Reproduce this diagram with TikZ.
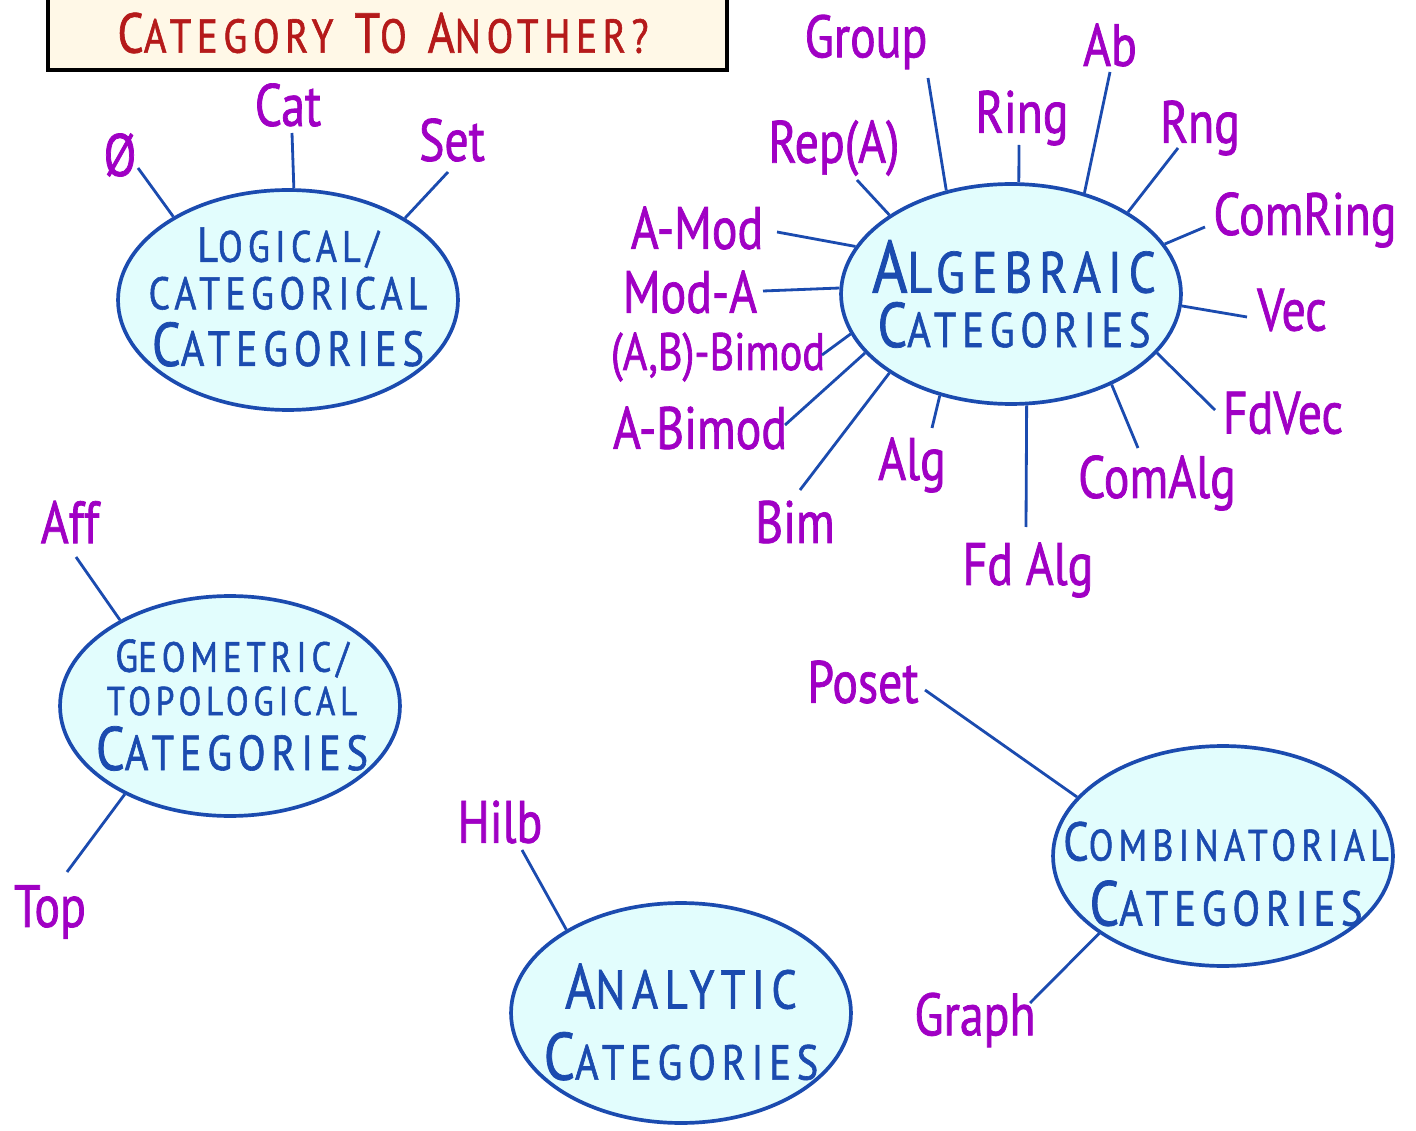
\documentclass[tikz,border=0pt]{standalone}
\usepackage{fontspec}
\newfontfamily\handfont[FakeStretch=0.82,LetterSpace=12,FakeBold=1.2]{PT Sans}
\newfontfamily\labelfont[FakeStretch=0.80,FakeBold=1.2]{PT Sans}
\usetikzlibrary{shapes.geometric}
\definecolor{catblue}{HTML}{1B4BAF}
\definecolor{catfill}{HTML}{E2FDFD}
\definecolor{catpurple}{HTML}{A000C4}
\definecolor{titlered}{HTML}{B51A1A}
\definecolor{titlecream}{HTML}{FFF8E7}
% first letter at one size, the rest of the word at another
\newcommand\capsword[4]{{\fontsize{#1}{#1}\selectfont #3}{\fontsize{#2}{#2}\selectfont #4}}
\tikzset{
  catell/.style={ellipse, draw=catblue, fill=catfill, line width=2.1pt,
    minimum width=6.8cm, minimum height=4.4cm, inner sep=0pt},
  cattext/.style={text=catblue, font={\handfont\fontsize{10}{10}\selectfont},
    align=center, inner sep=0pt},
  lbl/.style={text=catpurple, font={\labelfont\fontsize{34}{34}\selectfont}, inner sep=0pt},
  link/.style={draw=catblue, line width=1.6pt},
  titlebox/.style={draw=black, fill=titlecream, line width=2pt,
    minimum width=13.58cm, minimum height=1.7cm, inner sep=0pt}
}
\begin{document}
\begin{tikzpicture}[x=0.02cm,y=-0.02cm]
\useasboundingbox (0,0) rectangle (1416,1131);

% heading box
\node[titlebox] (hbox) at (387.5,27.5) {};
\node[text=titlered, font=\handfont, inner sep=0pt] (htext) at (383,33)
  {\capsword{32}{27}{C}{ATEGORY}\hspace{12pt}\capsword{32}{27}{T}{O}\hspace{12pt}\capsword{32}{27}{A}{NOTHER?}};

% the five families of categories
\node[catell] (logic) at (288,300) {};
\node[cattext] (logictxt) at (288,297)
  {\capsword{28}{25}{L}{OGICAL/}\\[4pt]\capsword{26}{26}{C}{ATEGORICAL}\\[6pt]\capsword{35}{28}{C}{ATEGORIES}};

\node[catell] (alg) at (1011,294) {};
\node[cattext] (algtxt) at (1014,294)
  {\capsword{42}{33}{A}{LGEBRAIC}\\[4pt]\capsword{36}{28}{C}{ATEGORIES}};

\node[catell] (geo) at (230,706) {};
\node[cattext] (geotxt) at (232,705)
  {\capsword{26}{24}{G}{EOMETRIC/}\\[4pt]\capsword{23}{23}{T}{OPOLOGICAL}\\[5pt]\capsword{35}{28}{C}{ATEGORIES}};

\node[catell] (ana) at (681,1013) {};
\node[cattext] (anatxt) at (681,1022)
  {\capsword{36}{31}{A}{NALYTIC}\\[12pt]\capsword{38}{28}{C}{ATEGORIES}};

\node[catell] (comb) at (1223,856) {};
\node[cattext] (combtxt) at (1226,874)
  {\capsword{31}{25}{C}{OMBINATORIAL}\\[10pt]\capsword{36}{28}{C}{ATEGORIES}};

% logical / categorical
\node[lbl] (empty) at (120,155) {Ø};
\node[lbl] (cat) at (288,105) {Cat};
\node[lbl] (set) at (452,140) {Set};
\coordinate (empty-e) at (138,168);
\coordinate (cat-e) at (292,133);
\coordinate (set-e) at (448,172);
\draw[link] (empty-e) -- (logic.144.7);
\draw[link] (cat-e) -- (logic.87.4);
\draw[link] (set-e) -- (logic.35.7);

% algebraic
\node[lbl] (group) at (866,42) {Group};
\node[lbl] (ab) at (1110,45) {Ab};
\node[lbl] (ring) at (1022,118) {Ring};
\node[lbl] (rng) at (1200,128) {Rng};
\node[lbl] (comring) at (1305,220) {ComRing};
\node[lbl] (vec) at (1292,310) {Vec};
\node[lbl] (fdvec) at (1283,413) {FdVec};
\node[lbl] (comalg) at (1157,483) {ComAlg};
\node[lbl] (fdalg) at (1028,570) {Fd Alg};
\node[lbl] (algl) at (912,465) {Alg};
\node[lbl] (bim) at (795,522) {Bim};
\node[lbl] (abimod) at (700,428) {A-Bimod};
\node[lbl, font={\labelfont\fontsize{30}{30}\selectfont}] (abbimod) at (718,357) {(A,B)-Bimod};
\node[lbl] (moda) at (690,292) {Mod-A};
\node[lbl] (amod) at (697,228) {A-Mod};
\node[lbl] (repa) at (834,148) {Rep(A)};

\coordinate (group-e) at (928,78);
\coordinate (ab-e) at (1110,72);
\coordinate (ring-e) at (1019,145);
\coordinate (rng-e) at (1178,148);
\coordinate (comring-e) at (1205,227);
\coordinate (vec-e) at (1247,317);
\coordinate (fdvec-e) at (1215,410);
\coordinate (comalg-e) at (1138,448);
\coordinate (fdalg-e) at (1026,527);
\coordinate (algl-e) at (932,428);
\coordinate (bim-e) at (800,490);
\coordinate (abimod-e) at (785,425);
\coordinate (abbimod-e) at (822,355);
\coordinate (moda-e) at (763,291);
\coordinate (amod-e) at (777,232);
\coordinate (repa-e) at (857,180);

\draw[link] (group-e) -- (alg.122.0);
\draw[link] (ab-e) -- (alg.54.0);
\draw[link] (ring-e) -- (alg.86.4);
\draw[link] (rng-e) -- (alg.35.6);
\draw[link] (comring-e) -- (alg.18.0);
\draw[link] (vec-e) -- (alg.-4.0);
\draw[link] (fdvec-e) -- (alg.-22.3);
\draw[link] (comalg-e) -- (alg.-42.3);
\draw[link] (fdalg-e) -- (alg.-82.3);
\draw[link] (algl-e) -- (alg.235.9);
\draw[link] (bim-e) -- (alg.213.3);
\draw[link] (abimod-e) -- (alg.202.8);
\draw[link] (abbimod-e) -- (alg.194.4);
\draw[link] (moda-e) -- (alg.178.3);
\draw[link] (amod-e) -- (alg.163.8);
\draw[link] (repa-e) -- (alg.147.5);

% geometric / topological
\node[lbl] (aff) at (70,522) {Aff};
\node[lbl] (top) at (50,912) {Top};
\coordinate (aff-e) at (76,557);
\coordinate (top-e) at (67,872);
\draw[link] (aff-e) -- (geo.142.5);
\draw[link] (top-e) -- (geo.220.3);

% analytic
\node[lbl] (hilb) at (500,822) {Hilb};
\coordinate (hilb-e) at (522,850);
\draw[link] (hilb-e) -- (ana.144.2);

% combinatorial
\node[lbl] (poset) at (863,682) {Poset};
\node[lbl] (graph) at (975,1020) {Graph};
\coordinate (poset-e) at (925,690);
\coordinate (graph-e) at (1030,1003);
\draw[link] (poset-e) -- (comb.158.9);
\draw[link] (graph-e) -- (comb.212.8);
\end{tikzpicture}
\end{document}
